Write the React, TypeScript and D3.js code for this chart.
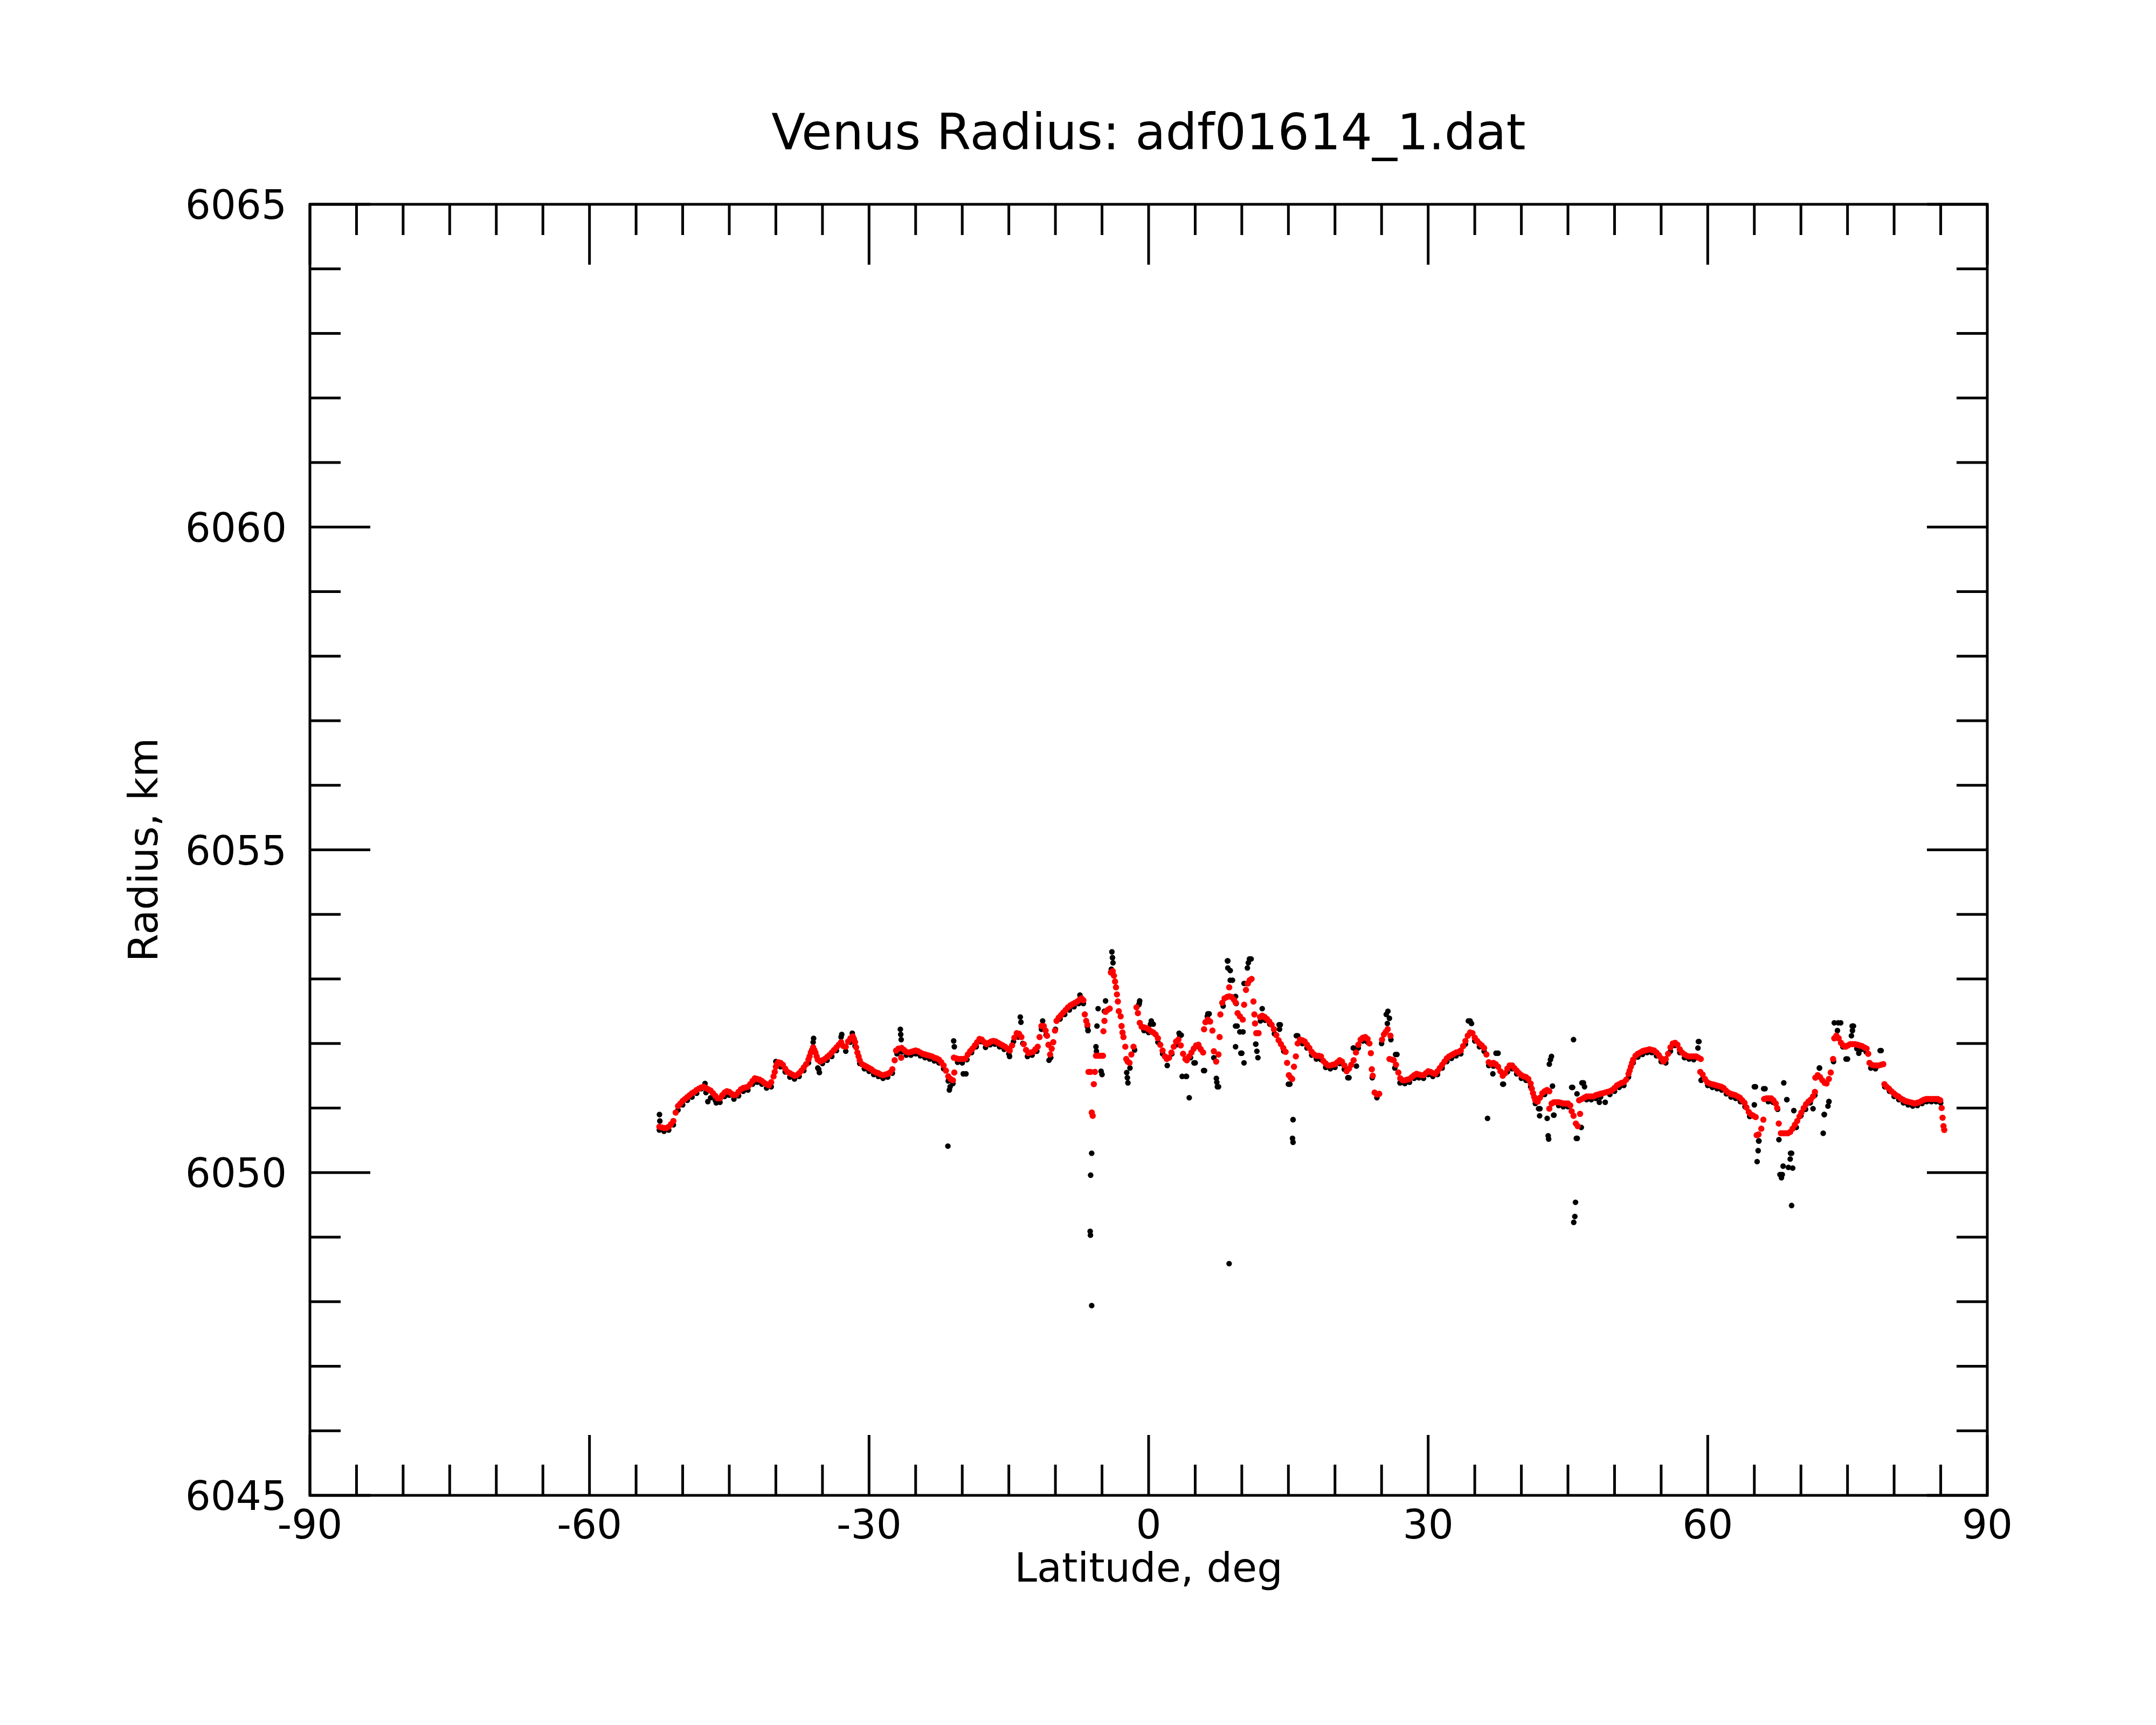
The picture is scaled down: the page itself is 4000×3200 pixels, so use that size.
import * as d3 from "d3";
import React from "react";

// red: smoothed radius profile, black: raw samples (lat deg, radius km)
const smoothed: [number, number][] = [
  [-52.5, 6050.71], [-52.25, 6050.7], [-52, 6050.69], [-51.75, 6050.69], [-51.5, 6050.71], [-51.25, 6050.75],
  [-51, 6050.8], [-50.75, 6050.93], [-50.5, 6051.03], [-50.25, 6051.07], [-50, 6051.11], [-49.75, 6051.14],
  [-49.5, 6051.17], [-49.25, 6051.2], [-49, 6051.23], [-48.75, 6051.25], [-48.5, 6051.28], [-48.25, 6051.3],
  [-48, 6051.32], [-47.75, 6051.33], [-47.5, 6051.31], [-47.25, 6051.29], [-47, 6051.27], [-46.75, 6051.23],
  [-46.5, 6051.19], [-46.25, 6051.15], [-46, 6051.15], [-45.75, 6051.2], [-45.5, 6051.24], [-45.25, 6051.26],
  [-45, 6051.25], [-44.75, 6051.22], [-44.5, 6051.2], [-44.25, 6051.21], [-44, 6051.25], [-43.75, 6051.29],
  [-43.5, 6051.31], [-43.25, 6051.32], [-43, 6051.33], [-42.75, 6051.37], [-42.5, 6051.42], [-42.25, 6051.46],
  [-42, 6051.45], [-41.75, 6051.44], [-41.5, 6051.42], [-41.25, 6051.39], [-41, 6051.37], [-40.75, 6051.35],
  [-40.5, 6051.4], [-40.25, 6051.49], [-40.12, 6051.56], [-40, 6051.64], [-39.88, 6051.68], [-39.75, 6051.71],
  [-39.5, 6051.7], [-39.25, 6051.67], [-39, 6051.61], [-38.75, 6051.56], [-38.5, 6051.54], [-38.25, 6051.52],
  [-38, 6051.5], [-37.75, 6051.51], [-37.5, 6051.54], [-37.25, 6051.58], [-37, 6051.63], [-36.75, 6051.68],
  [-36.5, 6051.75], [-36.38, 6051.8], [-36.25, 6051.86], [-36.12, 6051.9], [-36, 6051.94], [-35.88, 6051.9],
  [-35.75, 6051.86], [-35.62, 6051.8], [-35.5, 6051.75], [-35.25, 6051.72], [-35, 6051.74], [-34.75, 6051.76],
  [-34.5, 6051.79], [-34.25, 6051.82], [-34, 6051.86], [-33.75, 6051.9], [-33.5, 6051.94], [-33.25, 6051.98],
  [-33, 6052.02], [-32.75, 6051.96], [-32.5, 6051.95], [-32.25, 6052.03], [-32, 6052.08], [-31.75, 6052.11],
  [-31.62, 6052.07], [-31.5, 6052.02], [-31.38, 6051.94], [-31.25, 6051.86], [-31.12, 6051.8], [-31, 6051.74],
  [-30.75, 6051.68], [-30.5, 6051.66], [-30.25, 6051.64], [-30, 6051.62], [-29.75, 6051.6], [-29.5, 6051.57],
  [-29.25, 6051.55], [-29, 6051.54], [-28.75, 6051.52], [-28.5, 6051.51], [-28.25, 6051.52], [-28, 6051.53],
  [-27.75, 6051.55], [-27.5, 6051.6], [-27.25, 6051.74], [-27.1, 6051.89], [-26.85, 6051.92], [-26.55, 6051.78],
  [-26.5, 6051.93], [-26.25, 6051.9], [-26, 6051.87], [-25.75, 6051.86], [-25.5, 6051.87], [-25.25, 6051.88],
  [-25, 6051.89], [-24.75, 6051.88], [-24.5, 6051.86], [-24.25, 6051.84], [-24, 6051.83], [-23.75, 6051.82],
  [-23.5, 6051.81], [-23.25, 6051.8], [-23, 6051.78], [-22.75, 6051.77], [-22.5, 6051.75], [-22.25, 6051.71],
  [-22, 6051.66], [-21.75, 6051.58], [-21.5, 6051.49], [-21.25, 6051.45], [-21, 6051.43], [-20.85, 6051.55],
  [-20.9, 6051.78], [-20.65, 6051.77], [-20.4, 6051.76], [-20.15, 6051.76], [-19.9, 6051.76], [-19.65, 6051.77],
  [-19.4, 6051.83], [-19.15, 6051.88], [-18.9, 6051.92], [-18.65, 6051.97], [-18.4, 6052.02], [-18.15, 6052.07],
  [-17.9, 6052.06], [-17.65, 6052.02], [-17.4, 6051.99], [-17.15, 6052.01], [-16.9, 6052.03], [-16.65, 6052.04],
  [-16.4, 6052.03], [-16.15, 6052.01], [-15.9, 6051.99], [-15.65, 6051.97], [-15.4, 6051.95], [-15.15, 6051.92],
  [-14.9, 6051.89], [-14.65, 6051.97], [-14.4, 6052.09], [-14.15, 6052.16], [-13.9, 6052.15], [-13.65, 6052.1],
  [-13.4, 6051.99], [-13.15, 6051.9], [-12.9, 6051.85], [-12.65, 6051.86], [-12.4, 6051.87], [-12.15, 6051.91],
  [-11.9, 6051.95], [-11.7, 6052.1], [-11.5, 6052.27], [-11.25, 6052.27], [-11.05, 6052.2], [-10.9, 6052.12],
  [-10.75, 6051.98], [-10.57, 6051.83], [-10.4, 6051.92], [-10.23, 6052.02], [-10.05, 6052.2], [-9.88, 6052.35],
  [-9.65, 6052.4], [-9.4, 6052.44], [-9.15, 6052.48], [-8.9, 6052.52], [-8.65, 6052.56], [-8.4, 6052.59],
  [-8.15, 6052.61], [-7.9, 6052.63], [-7.65, 6052.65], [-7.4, 6052.68], [-7.2, 6052.7], [-7, 6052.67],
  [-6.85, 6052.45], [-6.7, 6052.35], [-6.57, 6052.29], [-6.45, 6051.56], [-6.25, 6051.56], [-6.1, 6050.93],
  [-6, 6050.88], [-5.88, 6051.37], [-5.77, 6051.56], [-5.65, 6051.81], [-5.4, 6051.81], [-5.15, 6051.81],
  [-4.9, 6051.81], [-4.85, 6052.19], [-4.74, 6052.35], [-4.62, 6052.49], [-4.4, 6052.52], [-4.17, 6052.54],
  [-4.05, 6053.1], [-3.85, 6053.12], [-3.72, 6053.05], [-3.6, 6052.96], [-3.5, 6052.87], [-3.4, 6052.76],
  [-3.3, 6052.65], [-3.2, 6052.5], [-3, 6052.42], [-2.9, 6052.27], [-2.8, 6052.17], [-2.7, 6052.1],
  [-2.5, 6051.95], [-2.4, 6051.76], [-2.25, 6051.72], [-2.05, 6051.7], [-1.85, 6051.83], [-1.62, 6051.95],
  [-1.3, 6052.56], [-1.15, 6052.47], [-0.95, 6052.32], [-0.75, 6052.26], [-0.5, 6052.25], [-0.25, 6052.24],
  [0, 6052.22], [0.25, 6052.19], [0.5, 6052.17], [0.75, 6052.14], [1, 6052.08], [1.25, 6051.98],
  [1.5, 6051.89], [1.75, 6051.8], [1.95, 6051.76], [2.2, 6051.78], [2.45, 6051.86], [2.7, 6051.95],
  [2.95, 6052.03], [3.2, 6052.06], [3.45, 6051.97], [3.7, 6051.84], [3.95, 6051.76], [4.1, 6051.74],
  [4.35, 6051.8], [4.6, 6051.86], [4.85, 6051.92], [5.1, 6051.97], [5.35, 6051.98], [5.6, 6051.91],
  [5.85, 6051.86], [5.95, 6052.22], [6.1, 6052.33], [6.35, 6052.37], [6.6, 6052.34], [6.85, 6052.2],
  [7, 6051.88], [7.25, 6051.72], [7.5, 6051.83], [7.62, 6052.1], [7.7, 6052.45], [7.9, 6052.63],
  [8.15, 6052.7], [8.4, 6052.72], [8.65, 6052.73], [8.65, 6052.87], [8.9, 6052.72], [9.15, 6052.68],
  [9.35, 6052.63], [9.55, 6052.47], [9.8, 6052.42], [10.1, 6052.37], [10.25, 6052.6], [10.45, 6052.83],
  [10.65, 6052.93], [10.85, 6052.98], [11.05, 6053], [11.25, 6052.65], [11.35, 6052.45], [11.42, 6052.31],
  [11.55, 6052.16], [11.8, 6052.16], [11.96, 6052.41], [12.2, 6052.43], [12.45, 6052.41], [12.7, 6052.38],
  [12.95, 6052.34], [13.2, 6052.29], [13.45, 6052.22], [13.7, 6052.13], [13.95, 6052.05], [14.2, 6051.99],
  [14.45, 6051.93], [14.7, 6051.87], [14.86, 6051.7], [15.05, 6051.51], [15.25, 6051.47], [15.4, 6051.45],
  [15.6, 6051.64], [15.8, 6051.8], [16, 6052], [16.25, 6052.06], [16.5, 6052.05], [16.75, 6052.03],
  [17, 6051.98], [17.25, 6051.93], [17.5, 6051.87], [17.75, 6051.83], [18, 6051.81], [18.25, 6051.81],
  [18.5, 6051.8], [18.75, 6051.73], [19, 6051.69], [19.25, 6051.66], [19.5, 6051.66], [19.75, 6051.67],
  [20, 6051.68], [20.25, 6051.71], [20.5, 6051.74], [20.75, 6051.72], [21, 6051.66], [21.25, 6051.57],
  [21.5, 6051.61], [21.75, 6051.67], [22, 6051.74], [22.25, 6051.86], [22.5, 6051.98], [22.75, 6052.06],
  [23, 6052.09], [23.25, 6052.1], [23.5, 6052.07], [23.7, 6052], [23.85, 6051.85], [23.95, 6051.6],
  [24.05, 6051.5], [24.25, 6051.24], [24.5, 6051.21], [24.75, 6051.22], [25.05, 6052.06], [25.25, 6052.14],
  [25.45, 6052.18], [25.65, 6052.22], [25.95, 6052.12], [25.85, 6051.76], [26.1, 6051.75], [26.3, 6051.74],
  [26.55, 6051.67], [26.8, 6051.55], [27, 6051.46], [27.25, 6051.43], [27.5, 6051.43], [27.75, 6051.44],
  [28, 6051.45], [28.25, 6051.48], [28.5, 6051.51], [28.75, 6051.53], [29, 6051.52], [29.25, 6051.51],
  [29.5, 6051.51], [29.75, 6051.54], [30, 6051.57], [30.25, 6051.56], [30.5, 6051.54], [30.75, 6051.53],
  [31, 6051.57], [31.25, 6051.62], [31.5, 6051.67], [31.75, 6051.72], [32, 6051.77], [32.25, 6051.8],
  [32.5, 6051.82], [32.75, 6051.84], [33, 6051.86], [33.25, 6051.87], [33.5, 6051.89], [33.75, 6051.96],
  [34, 6052.04], [34.25, 6052.12], [34.5, 6052.17], [34.75, 6052.16], [35, 6052.09], [35.25, 6052.04],
  [35.5, 6052], [35.75, 6051.97], [36, 6051.93], [36.25, 6051.83], [36.5, 6051.71], [36.75, 6051.68],
  [37, 6051.7], [37.25, 6051.68], [37.5, 6051.64], [37.75, 6051.57], [38, 6051.5], [38.25, 6051.54],
  [38.5, 6051.61], [38.75, 6051.66], [39, 6051.66], [39.25, 6051.62], [39.5, 6051.58], [39.75, 6051.54],
  [40, 6051.51], [40.25, 6051.49], [40.5, 6051.48], [40.75, 6051.45], [41, 6051.38], [41.12, 6051.3],
  [41.25, 6051.23], [41.38, 6051.17], [41.5, 6051.12], [41.75, 6051.1], [42, 6051.16], [42.25, 6051.23],
  [42.5, 6051.26], [42.75, 6051.28], [43, 6051.26], [43, 6050.99], [43.25, 6051.07], [43.5, 6051.09],
  [43.75, 6051.09], [44, 6051.09], [44.25, 6051.08], [44.5, 6051.07], [44.75, 6051.07], [45, 6051.07],
  [45.25, 6051.04], [45.4, 6050.95], [45.6, 6050.88], [45.85, 6050.76], [46.05, 6050.72], [46.3, 6050.91],
  [46.2, 6051.12], [46.5, 6051.14], [46.75, 6051.16], [47, 6051.18], [47.25, 6051.18], [47.5, 6051.18],
  [47.75, 6051.18], [48, 6051.2], [48.25, 6051.21], [48.5, 6051.22], [48.75, 6051.23], [49, 6051.24],
  [49.25, 6051.25], [49.5, 6051.26], [49.75, 6051.28], [50, 6051.31], [50.25, 6051.35], [50.5, 6051.37],
  [50.75, 6051.39], [51, 6051.4], [51.25, 6051.44], [51.5, 6051.53], [51.62, 6051.58], [51.75, 6051.64],
  [51.88, 6051.7], [52, 6051.75], [52.25, 6051.81], [52.5, 6051.84], [52.75, 6051.86], [53, 6051.88],
  [53.25, 6051.89], [53.5, 6051.9], [53.75, 6051.91], [54, 6051.9], [54.25, 6051.89], [54.5, 6051.86],
  [54.75, 6051.82], [55, 6051.77], [55.25, 6051.72], [55.5, 6051.76], [55.75, 6051.84], [56, 6051.94],
  [56.25, 6052], [56.5, 6052.01], [56.75, 6051.98], [57, 6051.91], [57.25, 6051.86], [57.5, 6051.83],
  [57.75, 6051.81], [58, 6051.8], [58.25, 6051.8], [58.5, 6051.8], [58.75, 6051.8], [59, 6051.78],
  [59.25, 6051.76], [59.2, 6051.56], [59.45, 6051.52], [59.7, 6051.45], [59.95, 6051.4], [60.2, 6051.38],
  [60.45, 6051.37], [60.7, 6051.36], [60.95, 6051.35], [61.2, 6051.34], [61.45, 6051.33], [61.7, 6051.31],
  [61.95, 6051.27], [62.2, 6051.24], [62.45, 6051.22], [62.7, 6051.21], [62.95, 6051.2], [63.2, 6051.18],
  [63.45, 6051.16], [63.7, 6051.12], [63.95, 6051.08], [64.15, 6051.01], [64.4, 6050.94], [64.65, 6050.9],
  [64.9, 6050.88], [65.15, 6050.86], [65.25, 6050.58], [65.45, 6050.59], [65.75, 6050.68], [65.97, 6050.82],
  [66.05, 6051.14], [66.3, 6051.15], [66.55, 6051.15], [66.8, 6051.15], [67.05, 6051.12], [67.3, 6051.07],
  [67.45, 6051], [67.62, 6050.76], [67.85, 6050.61], [68.1, 6050.61], [68.35, 6050.61], [68.6, 6050.61],
  [68.85, 6050.63], [69.1, 6050.68], [69.35, 6050.74], [69.6, 6050.8], [69.85, 6050.87], [70.05, 6050.93],
  [70.3, 6051], [70.55, 6051.06], [70.8, 6051.1], [71.05, 6051.13], [71.3, 6051.18], [71.5, 6051.25],
  [71.55, 6051.47], [71.8, 6051.51], [72.05, 6051.48], [72.3, 6051.43], [72.55, 6051.39], [72.75, 6051.38],
  [73, 6051.45], [73.2, 6051.55], [73.45, 6051.76], [73.58, 6052.08], [73.8, 6052.12], [74.05, 6052.08],
  [74.3, 6052.01], [74.55, 6051.97], [74.8, 6051.95], [75.05, 6051.97], [75.3, 6051.99], [75.55, 6051.99],
  [75.8, 6051.99], [76.05, 6051.98], [76.3, 6051.97], [76.55, 6051.96], [76.8, 6051.94], [77.05, 6051.92],
  [77.22, 6051.84], [77.36, 6051.7], [77.6, 6051.67], [77.85, 6051.66], [78.1, 6051.66], [78.35, 6051.66],
  [78.6, 6051.67], [78.84, 6051.68], [78.96, 6051.37], [79.2, 6051.33], [79.45, 6051.3], [79.7, 6051.26],
  [79.95, 6051.23], [80.2, 6051.2], [80.45, 6051.18], [80.7, 6051.15], [80.95, 6051.13], [81.2, 6051.11],
  [81.45, 6051.1], [81.7, 6051.09], [81.95, 6051.08], [82.2, 6051.07], [82.45, 6051.08], [82.7, 6051.09],
  [82.95, 6051.11], [83.2, 6051.13], [83.45, 6051.14], [83.7, 6051.14], [83.95, 6051.14], [84.2, 6051.14],
  [84.45, 6051.14], [84.7, 6051.14], [84.95, 6051.12], [85.1, 6051], [85.2, 6050.85], [85.3, 6050.72],
  [85.38, 6050.66],
];

const raw: [number, number][] = [
  [-52.5, 6050.66], [-52, 6050.64], [-51.5, 6050.66], [-51, 6050.74], [-50.5, 6050.97], [-50, 6051.05],
  [-49.5, 6051.12], [-49, 6051.17], [-48.5, 6051.23], [-48, 6051.3], [-47.5, 6051.24], [-47, 6051.16],
  [-46.5, 6051.12], [-46, 6051.09], [-45.5, 6051.18], [-45, 6051.2], [-44.5, 6051.14], [-44, 6051.19],
  [-43.5, 6051.26], [-43, 6051.28], [-42.5, 6051.37], [-42, 6051.4], [-41.5, 6051.37], [-41, 6051.31],
  [-40.5, 6051.33], [-40, 6051.72], [-39.5, 6051.64], [-39, 6051.56], [-38.5, 6051.48], [-38, 6051.45],
  [-37.5, 6051.49], [-37, 6051.58], [-36.5, 6051.7], [-36, 6052.02], [-35.5, 6051.62], [-35, 6051.69],
  [-34.5, 6051.74], [-34, 6051.8], [-33.5, 6051.89], [-33, 6052.1], [-32.5, 6051.88], [-32, 6052.02],
  [-31.5, 6051.96], [-31, 6051.69], [-30.5, 6051.61], [-30, 6051.57], [-29.5, 6051.52], [-29, 6051.49],
  [-28.5, 6051.46], [-28, 6051.48], [-27.5, 6051.54], [-27, 6051.84], [-26.5, 6051.87], [-26, 6051.82],
  [-25.5, 6051.82], [-25, 6051.84], [-24.5, 6051.81], [-24, 6051.78], [-23.5, 6051.76], [-23, 6051.73],
  [-22.5, 6051.7], [-22, 6051.61], [-21.5, 6051.42], [-21, 6051.38], [-20.5, 6051.71], [-20, 6051.7],
  [-19.5, 6051.75], [-19, 6051.86], [-18.5, 6051.95], [-18, 6052.03], [-17.5, 6051.94], [-17, 6051.98],
  [-16.5, 6051.99], [-16, 6051.95], [-15.5, 6051.91], [-15, 6051.84], [-14.5, 6052.03], [-14, 6052.1],
  [-13.5, 6052], [-13, 6051.8], [-12.5, 6051.82], [-12, 6051.88], [-11.5, 6052.22], [-11, 6052.13],
  [-10.5, 6051.78], [-10, 6052.22], [-9.5, 6052.38], [-9, 6052.45], [-8.5, 6052.52], [-8, 6052.57],
  [-7.5, 6052.62], [-7, 6052.62], [-6.5, 6052.2], [-2, 6051.62], [-1.5, 6051.9], [-1, 6052.62],
  [-0.5, 6052.2], [0, 6052.17], [0.5, 6052.3], [1, 6052.02], [1.5, 6051.84], [2, 6051.66],
  [2.5, 6051.84], [3, 6051.98], [3.5, 6052.13], [4, 6051.49], [4.5, 6051.78], [5, 6051.7],
  [5.5, 6051.93], [6, 6051.58], [6.5, 6052.46], [7, 6051.78], [7.5, 6051.33], [8, 6052.58],
  [8.5, 6053.28], [9, 6052.98], [9.5, 6052.27], [10, 6051.85], [10.5, 6052.93], [11, 6053.31],
  [11.5, 6051.99], [12, 6052.35], [12.5, 6052.36], [13, 6052.3], [13.5, 6052.15], [14, 6052.29],
  [14.5, 6051.88], [15, 6051.37], [15.5, 6050.82], [16, 6052.12], [16.5, 6052], [17, 6051.93],
  [17.5, 6051.82], [18, 6051.76], [18.5, 6051.75], [19, 6051.63], [19.5, 6051.61], [20, 6051.63],
  [20.5, 6051.69], [21, 6051.6], [21.5, 6051.47], [22, 6051.93], [22.5, 6051.93], [23, 6052.04],
  [23.5, 6052.02], [24, 6051.47], [24.5, 6051.16], [25, 6052], [25.5, 6052.45], [26, 6052.06],
  [26.5, 6051.83], [27, 6051.39], [27.5, 6051.38], [28, 6051.4], [28.5, 6051.46], [29, 6051.47],
  [29.5, 6051.46], [30, 6051.52], [30.5, 6051.49], [31, 6051.52], [31.5, 6051.62], [32, 6051.72],
  [32.5, 6051.77], [33, 6051.81], [33.5, 6051.84], [34, 6051.99], [34.5, 6052.35], [35, 6052.04],
  [35.5, 6051.95], [36, 6051.88], [36.5, 6051.66], [37, 6051.65], [37.5, 6051.85], [38, 6051.37],
  [38.5, 6051.56], [39, 6051.61], [39.5, 6051.53], [40, 6051.46], [40.5, 6051.43], [41, 6051.33],
  [41.5, 6051.07], [42, 6050.99], [42.5, 6051.21], [43, 6051.68], [43.5, 6050.89], [44, 6051.04],
  [44.5, 6051.02], [45, 6051.02], [45.5, 6051.32], [46, 6050.53], [46.5, 6051.39], [47, 6051.13],
  [47.5, 6051.13], [48, 6051.15], [48.5, 6051.17], [49, 6051.09], [49.5, 6051.21], [50, 6051.26],
  [50.5, 6051.32], [51, 6051.35], [51.5, 6051.48], [52, 6051.7], [52.5, 6051.79], [53, 6051.83],
  [53.5, 6051.86], [54, 6051.86], [54.5, 6051.81], [55, 6051.72], [55.5, 6051.7], [56, 6051.88],
  [56.5, 6051.97], [57, 6051.86], [57.5, 6051.78], [58, 6051.76], [58.5, 6051.75], [59, 6052.03],
  [59.5, 6051.46], [60, 6051.35], [60.5, 6051.32], [61, 6051.3], [61.5, 6051.28], [62, 6051.22],
  [62.5, 6051.17], [63, 6051.15], [63.5, 6051.1], [64, 6051.02], [64.5, 6050.87], [65, 6051.33],
  [65.5, 6050.49], [66, 6051.3], [66.5, 6051.1], [67, 6051.09], [67.5, 6050.98], [68, 6049.97],
  [68.5, 6051.13], [69, 6050.3], [69.5, 6050.7], [70, 6050.88], [70.5, 6050.98], [71, 6051.08],
  [71.5, 6051.2], [72, 6051.62], [72.5, 6050.9], [73, 6051.1], [73.5, 6051.72], [74, 6052.32],
  [74.5, 6051.95], [75, 6051.76], [75.5, 6052.27], [76, 6051.92], [76.5, 6051.91], [77, 6051.87],
  [77.5, 6051.62], [78, 6051.61], [78.5, 6051.89], [79, 6051.33], [79.5, 6051.26], [80, 6051.18],
  [80.5, 6051.13], [81, 6051.08], [81.5, 6051.05], [82, 6051.03], [82.5, 6051.04], [83, 6051.07],
  [83.5, 6051.1], [84, 6051.1], [84.5, 6051.1], [85, 6051.08],
];

// raw samples that stand away from the smoothed curve
const rawOutliers: [number, number][] = [
  [-52.49, 6050.9], [-52.45, 6050.8], [-47.6, 6051.38], [-47.3, 6051.1], [-46.4, 6051.08],
  [-35.95, 6052.08], [-35.33, 6051.55], [-35.4, 6051.6], [-32.93, 6052.14], [-31.8, 6052.16],
  [-26.64, 6052.22], [-26.6, 6052.14], [-26.55, 6052.06], [-21.54, 6050.41], [-21.38, 6051.28],
  [-21.3, 6051.33], [-20.92, 6052.04], [-20.85, 6051.95], [-19.89, 6051.53], [-19.6, 6051.53],
  [-14.92, 6051.8], [-13.77, 6052.41], [-13.7, 6052.33], [-11.37, 6052.35], [-10.69, 6051.74],
  [-7.37, 6052.75], [-6.57, 6052.26], [-6.5, 6052.2], [-6.11, 6050.3], [-6.22, 6049.96],
  [-6.27, 6049.09], [-6.24, 6049.03], [-6.11, 6047.94], [-5.65, 6051.95], [-5.6, 6051.88],
  [-5.54, 6052.27], [-5.42, 6052.54], [-5.1, 6051.57], [-5, 6051.52], [-4.62, 6052.66],
  [-4.75, 6052.5], [-3.94, 6053.42], [-3.88, 6053.33], [-3.82, 6053.25], [-4, 6053.15],
  [-2.35, 6051.55], [-2.22, 6051.39], [-2.28, 6051.47], [-0.96, 6052.66], [-1.05, 6052.6],
  [0.29, 6052.35], [0.2, 6052.3], [3.27, 6052.16], [3.35, 6052.12], [3.6, 6051.49],
  [4.07, 6051.49], [4.36, 6051.16], [4.87, 6051.7], [5.9, 6051.58], [6.36, 6052.46],
  [6.3, 6052.42], [7.27, 6051.46], [7.38, 6051.33], [7.32, 6051.4], [8.46, 6053.28],
  [8.5, 6053.17], [8.76, 6053.13], [8.76, 6052.98], [8.64, 6048.59], [9.33, 6052.73],
  [9.4, 6052.62], [9.33, 6052.27], [9.79, 6052.18], [10.13, 6052.18], [9.33, 6051.95],
  [9.9, 6051.85], [10.24, 6051.7], [10.82, 6053.31], [10.7, 6053.25], [10.6, 6053.17],
  [10.24, 6052.93], [11.5, 6051.99], [11.62, 6051.88], [11.73, 6051.78], [12.19, 6052.54],
  [14.13, 6052.29], [14.05, 6052.22], [15.16, 6051.37], [15.5, 6050.82], [15.44, 6050.53],
  [15.5, 6050.47], [15.85, 6052.12], [21.38, 6051.47], [21.96, 6051.93], [22.3, 6051.65],
  [25.68, 6052.5], [25.84, 6052.39], [25.62, 6052.31], [26.65, 6051.83], [26.42, 6051.62],
  [26.98, 6051.39], [34.31, 6052.35], [34.65, 6052.31], [36.37, 6050.84], [37.28, 6051.85],
  [36.94, 6051.53], [38.08, 6051.37], [41.85, 6050.99], [41.96, 6050.88], [42.77, 6050.84],
  [42.88, 6050.57], [42.93, 6050.52], [43.23, 6051.8], [43.12, 6051.75], [43.34, 6051.34],
  [43.46, 6050.89], [45.6, 6052.06], [45.4, 6051.32], [45.97, 6051.22], [45.9, 6050.53],
  [46.66, 6051.39], [46.78, 6051.33], [45.81, 6049.54], [45.74, 6049.32], [45.62, 6049.23],
  [46.43, 6050.7], [48.37, 6051.09], [59.06, 6052.03], [58.95, 6051.93], [59.29, 6051.43],
  [65.12, 6051.33], [65, 6051.05], [66.15, 6051.3], [65.46, 6050.49], [65.41, 6050.34],
  [65.3, 6050.17], [68.16, 6051.39], [68.48, 6051.13], [67.64, 6050.51], [67.75, 6049.97],
  [67.91, 6049.92], [68.09, 6050.1], [68.66, 6050.08], [69.12, 6050.07], [68.89, 6050.3],
  [68.85, 6050.21], [69, 6049.49], [69.24, 6050.96], [71.3, 6050.99], [73.01, 6051.1],
  [72.9, 6051.03], [72.51, 6050.9], [72.39, 6050.61], [71.98, 6051.62], [73.58, 6052.32],
  [74.27, 6052.32], [73.92, 6052.2], [75.64, 6052.27], [75.53, 6052.2], [75.42, 6052.12],
  [74.84, 6051.76], [78.61, 6051.89], [76.21, 6051.85],
];

const latDomain = [-90, 90];
const radiusDomain = [6045, 6065];
const latMajor = [-90, -60, -30, 0, 30, 60, 90];
const radiusMajor = [6045, 6050, 6055, 6060, 6065];

const title = "Venus Radius: adf01614_1.dat";
const xTitle = "Latitude, deg";
const yTitle = "Radius, km";

export default function App() {
  const width = 4000;
  const height = 3200;
  const left = 575;
  const right = 3687;
  const top = 379;
  const bottom = 2774;
  const font = "DejaVu Sans";

  const x = d3.scaleLinear(latDomain, [left, right]);
  const y = d3.scaleLinear(radiusDomain, [bottom, top]);

  const latMinor = d3.range(-90, 91, 5).filter((d) => !latMajor.includes(d));
  const radiusMinor = d3.range(6045, 6066, 1).filter((d) => !radiusMajor.includes(d));

  const major = 112;
  const minor = 57;
  const sw = 5;

  return (
    <div style={{ position: "absolute", left: 0, top: 0 }}>
      <svg width={width} height={height} style={{ display: "block", background: "#fff" }}>
        <rect width={width} height={height} fill="#fff" />

        {/* raw samples first, smoothed curve on top */}
        <g fill="#000">
          {raw.concat(rawOutliers).map(([lat, r], i) => (
            <circle key={`b${i}`} cx={x(lat)} cy={y(r)} r={5.2} />
          ))}
        </g>
        <g fill="#ff0000">
          {smoothed.map(([lat, r], i) => (
            <circle key={`r${i}`} cx={x(lat)} cy={y(r)} r={5.8} />
          ))}
        </g>

        {/* frame and ticks */}
        <g stroke="#000" strokeWidth={sw} fill="none">
          <rect x={left} y={top} width={right - left} height={bottom - top} />
          {latMajor.map((d) => (
            <g key={`xM${d}`}>
              <line x1={x(d)} x2={x(d)} y1={bottom} y2={bottom - major} />
              <line x1={x(d)} x2={x(d)} y1={top} y2={top + major} />
            </g>
          ))}
          {latMinor.map((d) => (
            <g key={`xm${d}`}>
              <line x1={x(d)} x2={x(d)} y1={bottom} y2={bottom - minor} />
              <line x1={x(d)} x2={x(d)} y1={top} y2={top + minor} />
            </g>
          ))}
          {radiusMajor.map((d) => (
            <g key={`yM${d}`}>
              <line x1={left} x2={left + major} y1={y(d)} y2={y(d)} />
              <line x1={right} x2={right - major} y1={y(d)} y2={y(d)} />
            </g>
          ))}
          {radiusMinor.map((d) => (
            <g key={`ym${d}`}>
              <line x1={left} x2={left + minor} y1={y(d)} y2={y(d)} />
              <line x1={right} x2={right - minor} y1={y(d)} y2={y(d)} />
            </g>
          ))}
        </g>

        {/* labels */}
        <g fontFamily={font} fontSize={74} fill="#000">
          {latMajor.map((d) => (
            <text key={`xl${d}`} x={x(d)} y={bottom + 80} textAnchor="middle">
              {d}
            </text>
          ))}
          {radiusMajor.map((d) => (
            <text key={`yl${d}`} x={left - 43} y={y(d) + 27} textAnchor="end">
              {d}
            </text>
          ))}
        </g>
        <g fontFamily={font} fontSize={75} fill="#000">
          <text x={(left + right) / 2} y={2934} textAnchor="middle">
            {xTitle}
          </text>
          <text
            transform={`translate(292,${(top + bottom) / 2}) rotate(-90)`}
            textAnchor="middle"
          >
            {yTitle}
          </text>
        </g>
        <text
          x={(left + right) / 2}
          y={277}
          textAnchor="middle"
          fontFamily={font}
          fontSize={92}
          fill="#000"
        >
          {title}
        </text>
      </svg>
    </div>
  );
}
